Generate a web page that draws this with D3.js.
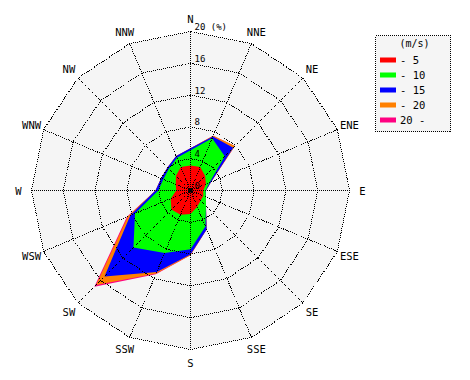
<!DOCTYPE html>
<html><head><meta charset="utf-8">
<script src="https://cdn.jsdelivr.net/npm/d3@7"></script>
<style>body{margin:0;background:#fff}svg{display:block}</style>
</head><body>
<svg id="chart" width="470" height="380"></svg>
<script>
const directions = ["N","NNE","NE","ENE","E","ESE","SE","SSE","S","SSW","SW","WSW","W","WNW","NW","NNW"];
const speedClasses = ["- 5","- 10","- 15","- 20","20 -"];
const classColors = ["#ff0000","#00ff00","#0000ff","#ff8000","#ff0080"];
// frequency (%) per direction for each speed class
const freqUpTo5   = [3.15,3.2,2.6,2.1,1.6,1.75,1.8,2.2,2.95,3.3,3.4,2.7,1.8,2.0,2.6,3.2];
const freq5to10   = [1.9,3.9,3.5,0.5,0.3,0.35,0.95,2.7,4.45,5.2,6.75,4.85,2.25,1.7,1.25,1.25];
const freq10to15  = [0.25,0.25,1.5,0.2,0.05,0,0,0.4,0.65,2.6,5.15,0.65,0.35,0.3,0.25,0.25];
const freq15to20  = [0,0.1,0.3,0,0,0,0,0,0.1,0.2,1.5,0.3,0,0,0,0];
const freqOver20  = [0,0,0,0,0,0,0,0,0,0.1,0.3,0.15,0,0,0,0];
const radialTicks = [0,4,8,12,16,20];
const unitLabel = "(%)";
const legendTitle = "(m/s)";

const series = [freqUpTo5,freq5to10,freq10to15,freq15to20,freqOver20];
const keys = speedClasses;
const rows = directions.map((d,i)=>{const o={dir:d};keys.forEach((k,j)=>o[k]=series[j][i]);return o;});
const stacked = d3.stack().keys(keys)(rows);

const svg = d3.select("#chart");
const cx = 190.5, cy = 190.5, R = 159;
const r = d3.scaleLinear().domain([0,20]).range([0,R]);
const ang = d3.scaleLinear().domain([0,directions.length]).range([0,2*Math.PI]);
const g = svg.append("g").attr("transform",`translate(${cx},${cy})`);
const font = "'DejaVu Sans Mono', monospace";

const ring = v => d3.lineRadial().angle((d,i)=>ang(i)).radius(()=>r(v)).curve(d3.curveLinearClosed)(directions);

// background
g.append("path").attr("d",ring(20)).attr("fill","#f5f5f5");

// stacked polygons, largest first
const area = d3.lineRadial().angle((d,i)=>ang(i)).radius(d=>r(d[1])).curve(d3.curveLinearClosed);
g.selectAll("path.layer").data(stacked.slice().reverse()).join("path")
  .attr("class","layer")
  .attr("d",d=>area(d))
  .attr("fill",d=>classColors[keys.indexOf(d.key)]);

// grid
const dash = "1,1";
radialTicks.filter(v=>v>0).forEach(v=>{
  g.append("path").attr("d",ring(v)).attr("fill","none").attr("stroke","#000").attr("stroke-width",1)
    .attr("stroke-dasharray",dash).attr("shape-rendering","crispEdges");
});
directions.forEach((d,i)=>{
  const a = ang(i);
  g.append("line").attr("x1",0).attr("y1",0)
    .attr("x2",r(20)*Math.sin(a)).attr("y2",-r(20)*Math.cos(a))
    .attr("stroke","#000").attr("stroke-width",1).attr("stroke-dasharray",dash)
    .attr("shape-rendering","crispEdges");
});
g.append("circle").attr("r",2).attr("fill","#000");

// tick labels
radialTicks.forEach(v=>{
  g.append("text").attr("x",4).attr("y",-r(v)-1.5)
    .attr("font-family",font).attr("font-size",9).attr("fill","#000")
    .text(v===20 ? v+" "+unitLabel : v);
});

// direction labels
directions.forEach((d,i)=>{
  const a = ang(i), rr = R+13;
  g.append("text").attr("x",rr*Math.sin(a)).attr("y",-rr*Math.cos(a))
    .attr("text-anchor","middle").attr("dominant-baseline","central")
    .attr("font-family",font).attr("font-size",10.5).attr("fill","#000").text(d);
});

// legend
const lg = svg.append("g").attr("transform","translate(375.5,35.5)");
lg.append("rect").attr("width",75).attr("height",96).attr("fill","#f5f5f5")
  .attr("stroke","#000").attr("stroke-dasharray",dash).attr("shape-rendering","crispEdges");
lg.append("text").attr("x",39).attr("y",11.5).attr("text-anchor","middle")
  .attr("font-family",font).attr("font-size",10).text(legendTitle);
keys.forEach((k,i)=>{
  const y = 24.5 + 15*i;
  lg.append("rect").attr("x",4.5).attr("y",y-2.5).attr("width",16).attr("height",5).attr("fill",classColors[i]);
  lg.append("text").attr("x",24.5).attr("y",y).attr("dominant-baseline","central")
    .attr("font-family",font).attr("font-size",10.5).text(k);
});
</script>
</body></html>
